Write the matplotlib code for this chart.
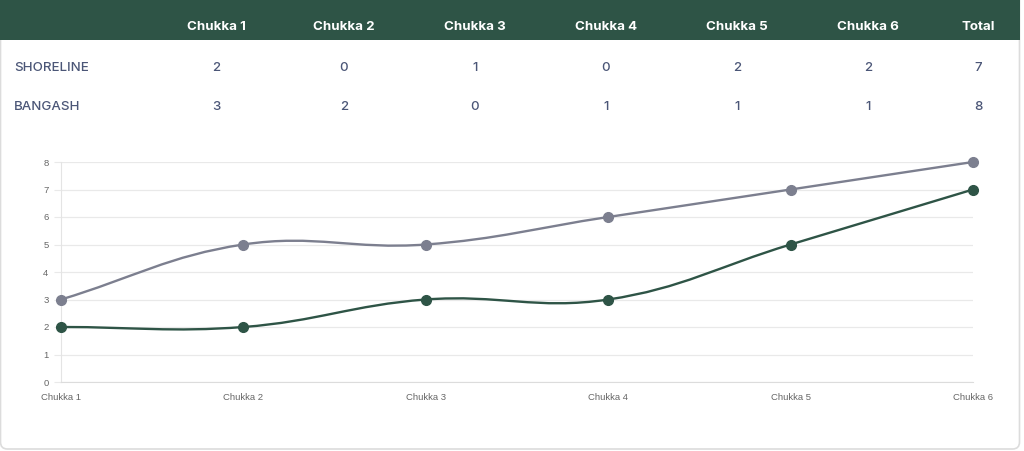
import matplotlib
matplotlib.use("Agg")
import matplotlib.pyplot as plt
from matplotlib.patches import FancyBboxPatch, Rectangle, PathPatch
from matplotlib.path import Path
import numpy as np

# table data
columns = ["Chukka 1", "Chukka 2", "Chukka 3", "Chukka 4", "Chukka 5", "Chukka 6", "Total"]
teams = ["SHORELINE", "BANGASH"]
shoreline_goals = [2, 0, 1, 0, 2, 2, 7]
bangash_goals = [3, 2, 0, 1, 1, 1, 8]

# chart data (running score)
chart_labels = ["Chukka 1", "Chukka 2", "Chukka 3", "Chukka 4", "Chukka 5", "Chukka 6"]
shoreline_running = [2, 2, 3, 3, 5, 7]
bangash_running = [3, 5, 5, 6, 7, 8]

GREEN = "#2e5446"
GRAY = "#7c7f8f"
TEXT = "#4b5677"

W, H = 1024, 451
fig = plt.figure(figsize=(W / 100, H / 100), dpi=100)
fig.patch.set_facecolor("white")

# card and header drawn in a full-figure pixel axes
bg = fig.add_axes([0, 0, 1, 1])
bg.set_xlim(0, W)
bg.set_ylim(H, 0)
bg.axis("off")
bg.add_patch(FancyBboxPatch((0.5, -10), 1019, 459, boxstyle="round,pad=0,rounding_size=7",
                            fc="white", ec="#dcdcdc", lw=1.2))
bg.add_patch(FancyBboxPatch((0, -10), 1020, 50, boxstyle="round,pad=0,rounding_size=7",
                            fc=GREEN, ec="none"))
bg.add_patch(Rectangle((0, 20), 1020, 20, fc=GREEN, ec="none"))

col_x = [216, 344, 475, 606, 737, 868, 978]
for x, c in zip(col_x, columns):
    bg.text(x, 27, c, color="white", fontsize=9.6, fontweight="bold",
            family="Inter", ha="center", va="center")

for y, team, goals in [(68, teams[0], shoreline_goals), (107, teams[1], bangash_goals)]:
    bg.text(14, y, team, color=TEXT, fontsize=9.6, family="Inter",
            fontweight="medium", ha="left", va="center")
    for x, g in zip(col_x, goals):
        bg.text(x, y, str(g), color=TEXT, fontsize=9.6, family="Inter",
                fontweight="medium", ha="center", va="center")

# line chart
ax = fig.add_axes([61 / W, 1 - 382 / H, (973 - 61) / W, (382 - 162) / H])
ax.set_facecolor("none")
xs = np.arange(len(chart_labels))
ax.set_xlim(0, len(chart_labels) - 1)
ax.set_ylim(0, 8)


def smooth_path(xv, yv, tension=0.4):
    # Chart.js style bezier control points computed in pixel space
    pts = ax.transData.transform(np.column_stack([xv, yv]))
    n = len(pts)
    verts = [pts[0]]
    codes = [Path.MOVETO]
    cps = []
    for i in range(n):
        prev = pts[max(i - 1, 0)]
        cur = pts[i]
        nxt = pts[min(i + 1, n - 1)]
        d01 = np.hypot(*(cur - prev))
        d12 = np.hypot(*(nxt - cur))
        tot = d01 + d12
        s01 = d01 / tot if tot else 0
        s12 = d12 / tot if tot else 0
        cps.append((cur - tension * s01 * (nxt - prev), cur + tension * s12 * (nxt - prev)))
    for i in range(1, n):
        verts += [cps[i - 1][1], cps[i][0], pts[i]]
        codes += [Path.CURVE4] * 3
    verts = ax.transData.inverted().transform(np.array(verts))
    return Path(verts, codes)


for vals, col in [(bangash_running, GRAY), (shoreline_running, GREEN)]:
    ax.add_patch(PathPatch(smooth_path(xs, vals), fc="none", ec=col, lw=1.7,
                           clip_on=False, zorder=3))
    ax.plot(xs, vals, "o", ms=7, color=col, clip_on=False, zorder=4)

ax.set_yticks(range(0, 9))
ax.set_xticks(xs)
ax.set_xticklabels(chart_labels)
ax.grid(True, axis="y", color="#e9e9e9", lw=0.9)
ax.set_axisbelow(True)
for s in ["top", "right"]:
    ax.spines[s].set_visible(False)
ax.spines["left"].set_color("#e4e4e4")
ax.spines["bottom"].set_color("#dcdcdc")
ax.tick_params(axis="y", colors="#e9e9e9", labelcolor="#666666", labelsize=6.8, length=5, pad=4)
ax.tick_params(axis="x", length=0, labelcolor="#666666", labelsize=6.8, pad=8)
for lab in ax.get_xticklabels() + ax.get_yticklabels():
    lab.set_family("Liberation Sans")

fig.savefig("out.png", dpi=100)
